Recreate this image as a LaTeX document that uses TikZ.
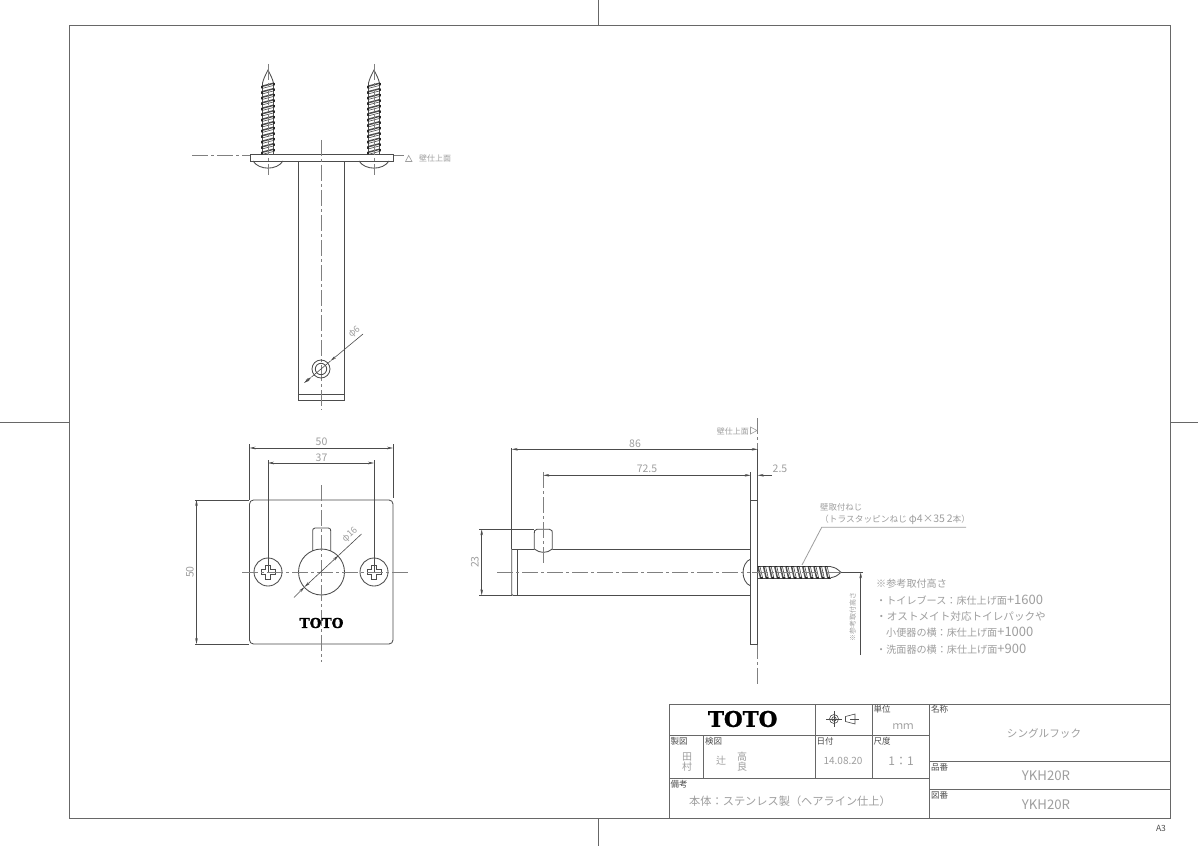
\documentclass[tikz,border=0pt]{standalone}
\usepackage{fontspec}
\usetikzlibrary{arrows.meta}
\newfontfamily\jpf{Noto Sans CJK JP}
\newfontfamily\logof[FakeBold=1.2]{DejaVu Serif Bold}
\definecolor{ink}{gray}{0.3}
\definecolor{cad}{gray}{0.62}
\definecolor{cline}{gray}{0.5}
\newcommand{\bigd}[2][13]{{\fontsize{#1}{#1}\selectfont #2}}
\tikzset{
  obj/.style={draw=ink,line width=0.85pt},
  frameline/.style={draw=ink!85,line width=1pt},
  center/.style={draw=cline,line width=0.6pt,dash pattern=on 16pt off 3pt on 3pt off 3pt},
  thin dim/.style={draw=ink,line width=0.6pt},
  dimarrow/.style={thin dim,{Stealth[length=6pt,width=2.6pt]}-{Stealth[length=6pt,width=2.6pt]}},
  endarrow/.style={thin dim,-{Stealth[length=6pt,width=2.6pt]}},
  txt/.style={inner sep=0pt,text=cad,font=\jpf\fontsize{#1}{#1}\selectfont},
  txt/.default=10.6,
  lab/.style={inner sep=0pt,anchor=west,text=ink,font=\jpf\fontsize{8.5}{9}\selectfont},
  logo/.style={inner sep=0pt,text=black,font=\logof\fontsize{#1}{#1}\selectfont},
  thread/.style={draw=ink,line width=1.5pt},
  threadthin/.style={draw=ink,line width=0.6pt},
  threadside/.style={draw=ink,line width=0.7pt},
  threadedge/.style={draw=black!85,line width=1.3pt,line cap=round}
}
\newcommand{\vscrew}[1]{%
  \draw[threadside] (#1-5.5,83) -- (#1-5.5,154) (#1+5.5,83) -- (#1+5.5,154);
  \foreach \yy in {83.8,89.3,...,150}{%
    \draw[thread] (#1-5.7,\yy+2.4) -- (#1+5.7,\yy-0.6);
    \draw[threadthin] (#1-5.7,\yy+4.6) -- (#1+5.7,\yy+1.6);
    \draw[threadedge] (#1-5.9,\yy+2.4) -- (#1-5.9,\yy+4.2);
    \draw[threadedge] (#1+5.9,\yy-0.4) -- (#1+5.9,\yy+1.2);
  }
  \draw[obj] (#1-5.5,83) .. controls (#1-4,78) .. (#1,70) .. controls (#1+4,78) .. (#1+5.5,83);
  \draw[obj] (#1-15,161) .. controls (#1-9,170.5) and (#1+9,170.5) .. (#1+15,161);
  \draw[center] (#1,64) -- (#1,175);
}
\newcommand{\cross}[1]{%
  \draw[thin dim] (#1-2.3,572-7) -- (#1+2.3,572-7) -- (#1+2.3,572-2.3) -- (#1+7,572-2.3) -- (#1+7,572+2.3) -- (#1+2.3,572+2.3) -- (#1+2.3,572+7) -- (#1-2.3,572+7) -- (#1-2.3,572+2.3) -- (#1-7,572+2.3) -- (#1-7,572-2.3) -- (#1-2.3,572-2.3) -- cycle;
  \draw[obj] (#1,572) circle[radius=14];
}
\begin{document}
\begin{tikzpicture}[x=1pt,y=-1pt]
\useasboundingbox (0,0) rectangle (1200,848);
\fill[white] (0,0) rectangle (1200,848);
% sheet frame
\draw[frameline] (69,26) rectangle (1170,818);
\draw[frameline] (598,0) -- (598,26) (598,818) -- (598,846) (0,422) -- (69,422) (1170,422) -- (1198,422);

% ---- top view
\draw[center] (192,155.5) -- (250,155.5) (393,155.5) -- (404,155.5);
\draw[obj] (250,154) rectangle (393,161);
\draw[obj] (298,161) -- (298,400) -- (344,400) -- (344,161);
\draw[obj] (298,394) -- (344,394);
\draw[center] (321,140) -- (321,410);
\vscrew{268}
\vscrew{374}
\draw[draw=cad,line width=0.6pt] (405.5,161.5) -- (412,161.5) -- (408.7,155.5) -- cycle;
\node[txt=8,anchor=west] (wall1) at (419,158.5) {壁仕上面};
\draw[obj] (321,369) circle[radius=9] (321,369) circle[radius=5.7];
\draw[dimarrow] (304,383) -- (311.5,377);
\draw[thin dim] (311.5,377) -- (330.5,361);
\draw[thin dim,{Stealth[length=6pt,width=2.6pt]}-] (330.5,361) -- (363,334);
\node[txt=9,rotate=40] (d6) at (354.5,332) {φ6};

% ---- front view
\draw[obj,rounded corners=4pt] (249.5,500) rectangle (393,644);
\draw[thin dim] (249.5,444) -- (249.5,500) (393,444) -- (393,498);
\draw[dimarrow] (249.5,448) -- (393,448);
\draw[thin dim] (268,460) -- (268,572) (374,460) -- (374,572);
\draw[dimarrow] (268,463) -- (374,463);
\draw[thin dim] (195,500) -- (249,500) (195,644) -- (249,644);
\draw[dimarrow] (196.5,500) -- (196.5,644);
\node[txt=10.5] (d50t) at (321.5,442) {50};
\node[txt=10.5] (d37) at (321.5,457.5) {37};
\node[txt=10.5,rotate=90] (d50l) at (190,572) {50};
\draw[obj] (312.7,551) -- (312.7,531) .. controls (312.7,529) .. (315,528) -- (328.4,528) .. controls (330.7,529) .. (330.7,531) -- (330.7,551);
\draw[obj] (321.5,572) circle[radius=23];
\cross{268}
\cross{374}
\draw[center] (321.5,485) -- (321.5,662);
\draw[center] (242,572) -- (410,572);
\draw[thin dim,{Stealth[length=6pt,width=2.6pt]}-] (304.5,587) -- (294,597.5);
\draw[thin dim,{Stealth[length=6pt,width=2.6pt]}-{Stealth[length=6pt,width=2.6pt]}] (304.5,587) -- (338.5,555.5);
\draw[thin dim] (338.5,555.5) -- (361.5,534);
\node[txt=9,rotate=43] (d16) at (350,535) {φ16};
\node[logo=12.5] (logo1) at (321.5,623) {\bigd[13.6]{TOTO}};

% ---- side view
\draw[center] (757.7,418) -- (757.7,685);
\draw[obj] (757.7,449) -- (757.7,644) -- (750.7,644) -- (750.7,500.7) -- (757.7,500.7);
\draw[thin dim] (750.7,472) -- (750.7,500.7);
\draw[obj] (750.7,549.5) -- (552.3,549.5) (534.3,549.5) -- (511.7,549.5) -- (511.7,593) .. controls (511.7,595) .. (513.5,595.5) -- (750.7,595.5);
\draw[obj] (517.7,549.5) -- (517.7,595.5);
\draw[obj] (534.3,549) -- (534.3,533) .. controls (534.3,530.5) .. (537,529.3) -- (549.5,529.3) .. controls (552.3,530.5) .. (552.3,533) -- (552.3,549) .. controls (547,553.5) and (540,553.5) .. (534.3,549);
\draw[obj] (750.7,559) .. controls (740.5,563) and (740.5,582) .. (750.7,586);
\draw[center] (543.3,472) -- (543.3,565);
\draw[center] (497,572) -- (750,572);
\draw[thin dim] (511.7,448) -- (511.7,549.3);
\draw[dimarrow] (511.7,449.3) -- (757.7,449.3);
\draw[dimarrow] (543.3,475.3) -- (750.7,475.3);
\draw[endarrow] (772,475.3) -- (757.7,475.3);
\draw[thin dim] (479,529.3) -- (534.3,529.3) (479,595.3) -- (511.7,595.3);
\draw[dimarrow] (481.7,529.3) -- (481.7,595.3);
\node[txt=10.5] (d86) at (635,444) {86};
\node[txt=10.5] (d725) at (647,469) {72.5};
\node[txt=10.5] (d25) at (780,469) {2.5};
\node[txt=10.5,rotate=90] (d23) at (475,562) {23};
\node[txt=8,anchor=east] (wall2) at (749,431) {壁仕上面};
\draw[draw=cad,line width=0.6pt] (750.5,427) -- (750.5,434) -- (757,430.5) -- cycle;

% side screw
\draw[threadside] (757.7,566.7) -- (830.7,566.7) (757.7,577.9) -- (830.7,577.9);
\foreach \xx in {758,763.6,...,826}{
  \draw[thread] (\xx,566.5) -- (\xx+2.6,577.9);
  \draw[threadthin] (\xx+2,566.5) -- (\xx+4.6,577.9);
  \draw[threadedge] (\xx+0.2,566.3) -- (\xx+1.8,566.3);
  \draw[threadedge] (\xx+2.8,578.1) -- (\xx+4.4,578.1);
}
\draw[obj] (830.7,566.7) .. controls (836,568) .. (841,572.3) .. controls (836,576.5) .. (830.7,577.7);
\draw[center] (752,572.3) -- (863,572.3);
\draw[thin dim] (841,572.3) -- (863,572.3);
\draw[draw=cad,line width=0.8pt] (802,565) -- (821.7,527.3) -- (966,527.3);
\node[txt=8.4,anchor=west] (scr1) at (820,507.7) {壁取付ねじ};
\node[txt=8.7,anchor=west] (scr2) at (820,520) {（トラスタッピンねじ \bigd[10.5]{φ4×35} \bigd[10.5]{2}本）};
\draw[endarrow] (860.7,655) -- (860.7,572.3);
\node[txt=7,rotate=90] (h1) at (852.7,617) {※参考取付高さ};

% notes
\node[txt=10.1,anchor=west] (n0) at (876,584) {※参考取付高さ};
\node[txt=10.1,anchor=west] (n1) at (876,600) {・トイレブース：床仕上げ面\bigd{+1600}};
\node[txt=10.6,anchor=west] (n2) at (876,616) {・オストメイト対応トイレパックや};
\node[txt=10.1,anchor=west] (n3) at (886,632) {小便器の横：床仕上げ面\bigd{+1000}};
\node[txt=10.1,anchor=west] (n4) at (876,649) {・洗面器の横：床仕上げ面\bigd{+900}};

% ---- title block
\draw[frameline] (669.3,704) rectangle (1170,818);
\draw[frameline] (929.3,704) -- (929.3,818);
\draw[frameline] (815.3,704) -- (815.3,778.3) (872.3,704) -- (872.3,778.3);
\draw[frameline] (669.3,735.7) -- (929.3,735.7) (669.3,778.3) -- (929.3,778.3);
\draw[frameline] (703.7,735.7) -- (703.7,778.3);
\draw[frameline] (929.3,761) -- (1170,761) (929.3,789.3) -- (1170,789.3);
\node[logo=21.5] (logo2) at (742.7,719) {TOTO};
% projection symbol
\draw[thin dim] (834,719) circle[radius=4.5] (834,719) circle[radius=2.2];
\draw[thin dim] (826,719) -- (842,719) (834,711) -- (834,727);
\draw[thin dim] (845.5,716.5) -- (855,714) -- (855,724) -- (845.5,721.5) -- cycle;
\draw[thin dim] (850,719) -- (859,719);
\node[lab] (l1) at (873.5,709.5) {単位};
\node[lab] (l2) at (670.5,741) {製図};
\node[lab] (l3) at (705,741) {検図};
\node[lab] (l4) at (816.5,741) {日付};
\node[lab] (l5) at (873.5,741) {尺度};
\node[lab] (l6) at (670.5,784) {備考};
\node[lab] (l7) at (931,709.5) {名称};
\node[lab] (l8) at (931,767) {品番};
\node[lab] (l9) at (931,795) {図番};
\node[txt=10.5] (mm) at (903,727) {ｍｍ};
\node[txt=10] (t1) at (687,757) {田};
\node[txt=10] (t2) at (687,767) {村};
\node[txt=10] (t3) at (721,761) {辻};
\node[txt=10] (t4) at (742,757) {高};
\node[txt=10] (t5) at (742,767) {良};
\node[txt=10] (date) at (843,761) {14.08.20};
\node[txt=12] (scale) at (901,761) {1：1};
\node[txt=11.2,anchor=west] (body) at (689,801) {本体：ステンレス製（ヘアライン仕上）};
\node[txt=10.6] (name) at (1044,733) {シングルフック};
\node[txt=13.2] (pn) at (1046,775.5) {YKH20R};
\node[txt=13.2] (dn) at (1046,804.5) {YKH20R};
\node[inner sep=0pt,text=ink,font=\jpf\fontsize{8.5}{9}\selectfont] (a3) at (1161,828) {A3};
\end{tikzpicture}
\end{document}
